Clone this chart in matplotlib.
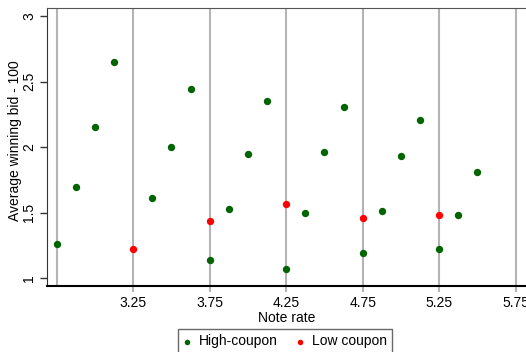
import matplotlib
matplotlib.use("Agg")
import matplotlib.pyplot as plt

plt.rcParams['font.family'] = ['Liberation Sans', 'DejaVu Sans']

high_x = [2.75, 2.875, 3.0, 3.125, 3.375, 3.5, 3.625, 3.75, 3.875, 4.0, 4.125,
          4.25, 4.375, 4.5, 4.625, 4.75, 4.875, 5.0, 5.125, 5.25, 5.375, 5.5]
high_y = [1.26, 1.70, 2.15, 2.65, 1.61, 2.00, 2.44, 1.14, 1.53, 1.95, 2.35,
          1.07, 1.50, 1.96, 2.31, 1.19, 1.51, 1.93, 2.21, 1.22, 1.48, 1.81]
low_x = [3.25, 3.75, 4.25, 4.75, 5.25]
low_y = [1.22, 1.44, 1.57, 1.46, 1.48]

grid_x = [2.75, 3.25, 3.75, 4.25, 4.75, 5.25, 5.75]
xtick_vals = [3.25, 3.75, 4.25, 4.75, 5.25, 5.75]
xtick_labels = ["3.25", "3.75", "4.25", "4.75", "5.25", "5.75"]
ytick_vals = [1, 1.5, 2, 2.5, 3]
ytick_labels = ["1", "1.5", "2", "2.5", "3"]

FS = 10
W, H = 526, 352
fig = plt.figure(figsize=(W / 100, H / 100), dpi=100)
left_px, right_px, top_px, bot_px = 47.3, 527, 8.3, 286.3
ax = fig.add_axes([left_px / W, 1 - bot_px / H, (right_px - left_px) / W, (bot_px - top_px) / H])

ax.set_xlim(2.689, 5.824)
ax.set_ylim(0.939, 3.059)

for gx in grid_x:
    ax.axvline(gx, color='#b4b4b4', lw=1.5, zorder=1)

ax.scatter(high_x, high_y, s=28, color='#006400', zorder=3, label='High-coupon', linewidths=0)
ax.scatter(low_x, low_y, s=28, color='#ff0000', zorder=3, label='Low coupon', linewidths=0)

ax.set_xticks(xtick_vals)
ax.set_xticklabels(xtick_labels, fontsize=FS)
ax.set_yticks(ytick_vals)
ax.set_yticklabels(ytick_labels, fontsize=FS, rotation=90, va='center')
ax.tick_params(axis='x', length=4, color='#b4b4b4', width=1.5, pad=3)
ax.tick_params(axis='y', length=5, color='#333333', width=1, pad=3)

ax.spines['right'].set_visible(False)
ax.spines['top'].set_color('#555555')
ax.spines['left'].set_color('#333333')
ax.spines['bottom'].set_color('black')
ax.spines['bottom'].set_linewidth(1.5)

ax.set_xlabel('Note rate', fontsize=FS, labelpad=1)
ax.set_ylabel('Average winning bid - 100', fontsize=FS)
ax.yaxis.set_label_coords((22.5 - left_px) / (right_px - left_px), (bot_px - 141) / (bot_px - top_px))

leg = fig.legend(loc='upper center', bbox_to_anchor=(285 / W, 1 - 329.3 / H), ncol=2,
                 fontsize=FS, frameon=True, fancybox=False, edgecolor='#444444',
                 handlelength=0.6, handletextpad=0.58, columnspacing=1.27,
                 borderpad=0.35, borderaxespad=0, markerscale=0.75)
leg.get_frame().set_linewidth(1.0)

fig.savefig('out.png', dpi=100)
